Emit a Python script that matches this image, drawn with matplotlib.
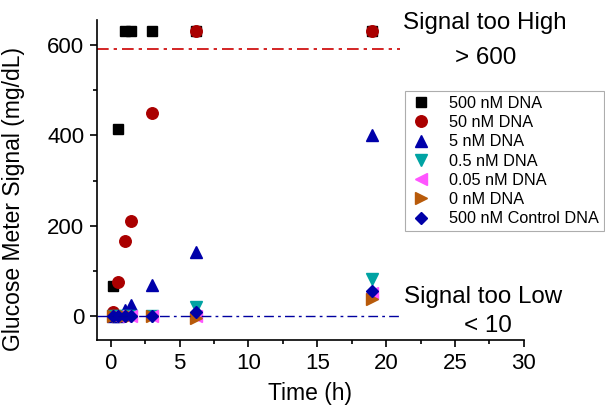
import matplotlib
matplotlib.use("Agg")
import matplotlib.pyplot as plt
from matplotlib.ticker import MultipleLocator

plt.rcParams['font.family'] = ['Liberation Sans', 'DejaVu Sans']

# Data
t500 = [0.17, 0.5, 1.0, 1.5, 3.0, 6.2, 19.0]
y500 = [68, 415, 631, 631, 631, 631, 631]
t50 = [0.17, 0.5, 1.0, 1.5, 3.0, 6.2, 19.0]
y50 = [9, 77, 166, 212, 449, 631, 631]
t5 = [0.17, 0.5, 1.0, 1.5, 3.0, 6.2, 19.0]
y5 = [0, 2, 15, 26, 70, 142, 401]
t05 = [0.17, 0.5, 1.0, 1.5, 3.0, 6.2, 19.0]
y05 = [0, 0, 0, 0, 0, 20, 83]
t005 = [0.17, 0.5, 1.0, 1.5, 3.0, 6.2, 19.0]
y005 = [0, 0, 0, 0, 0, 0, 52]
t0 = [0.17, 0.5, 1.0, 1.5, 3.0, 6.2, 19.0]
y0 = [0, 0, 0, 0, 0, -4, 39]
tctl = [0.17, 0.5, 1.0, 1.5, 3.0, 6.2, 19.0]
yctl = [0, 0, 0, 0, 0, 9, 57]

high_limit = 590
low_limit = 2
line_end = 21

fig = plt.figure(figsize=(6.05, 4.11), dpi=100)
ax = fig.add_axes([0.1603, 0.1727, 0.7057, 0.7786])

ms = dict(linestyle='none')
ax.plot(t500, y500, 's', color='black', markersize=7, label='500 nM DNA', **ms)
ax.plot(t50, y50, 'o', color='#AA0000', markersize=8.3, label='50 nM DNA', **ms)
ax.plot(t5, y5, '^', color='#0000AA', markersize=8.5, label='5 nM DNA', **ms)
ax.plot(t05, y05, 'v', color='#00A3A3', markersize=8.5, label='0.5 nM DNA', **ms)
ax.plot(t005, y005, '<', color='#FF55FF', markersize=8.5, label='0.05 nM DNA', **ms)
ax.plot(t0, y0, '>', color='#B85A0A', markersize=8.5, label='0 nM DNA', **ms)
ax.plot(tctl, yctl, 'D', color='#0000A8', markersize=6.3, label='500 nM Control DNA', **ms)

ax.plot([-1, line_end], [high_limit, high_limit], color='#CC0000', lw=1.2,
        dashes=(7, 3, 2, 3))
ax.plot([-1, line_end], [low_limit, low_limit], color='#0000A0', lw=1.0,
        dashes=(7, 3, 2, 3))

ax.set_xlim(-1, 30)
ax.set_ylim(-52, 655)
ax.xaxis.set_major_locator(MultipleLocator(5))
ax.xaxis.set_minor_locator(MultipleLocator(2.5))
ax.yaxis.set_major_locator(MultipleLocator(200))
ax.yaxis.set_minor_locator(MultipleLocator(100))
ax.spines['top'].set_visible(False)
ax.spines['right'].set_visible(False)
for s in ['left', 'bottom']:
    ax.spines[s].set_linewidth(1.2)
ax.tick_params(which='major', direction='out', length=5, width=1.2, labelsize=16, pad=4)
ax.tick_params(which='minor', direction='out', length=3, width=1.2)

ax.set_xlabel('Time (h)', fontsize=16.5, labelpad=6)
ax.set_ylabel('Glucose Meter Signal (mg/dL)', fontsize=16.5)
ax.yaxis.set_label_coords(-0.168, 0.44)

ax.text(21.2, 648, 'Signal too High', fontsize=17.4, ha='left', va='center', clip_on=False)
ax.text(27.2, 571, '> 600', fontsize=17.4, ha='center', va='center', clip_on=False)
ax.text(21.3, 42, 'Signal too Low', fontsize=17.4, ha='left', va='center', clip_on=False)
ax.text(27.4, -20, '< 10', fontsize=17.4, ha='center', va='center', clip_on=False)

leg = ax.legend(loc='upper left', bbox_to_anchor=(405 / 605, 1 - 91 / 411),
                bbox_transform=fig.transFigure, fontsize=11.7, frameon=True,
                fancybox=False, edgecolor='#999999', borderpad=0.3,
                labelspacing=0.26, handlelength=1.4, handletextpad=1.0,
                borderaxespad=0, numpoints=1)
leg.get_frame().set_linewidth(0.8)

fig.savefig('out.png', dpi=100)
